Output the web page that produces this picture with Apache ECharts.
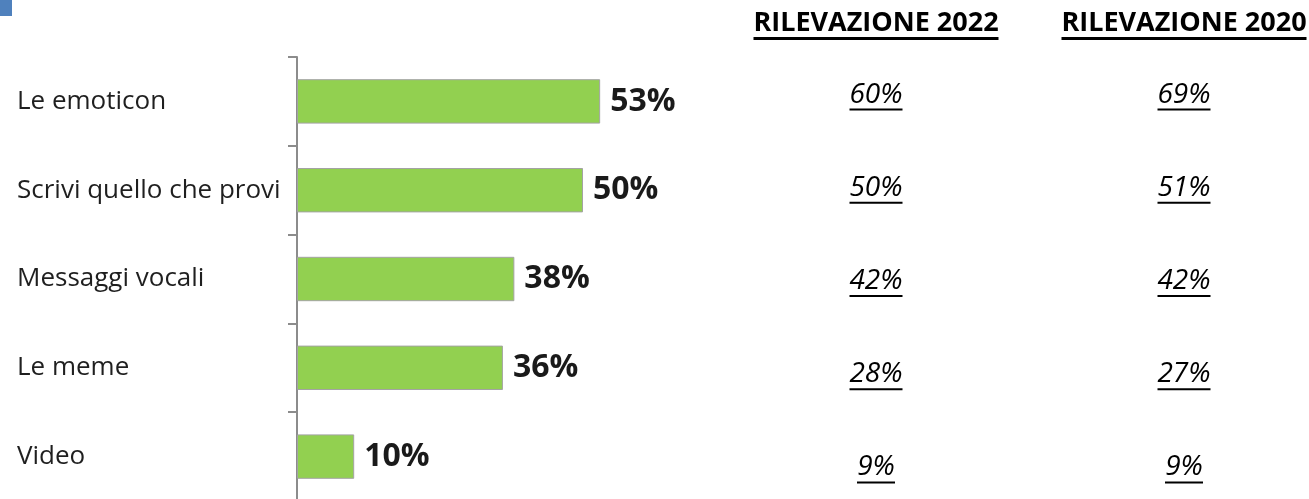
<!DOCTYPE html>
<html>
<head>
<meta charset="UTF-8">
<title>Rilevazione</title>
<style>
    html, body { margin: 0; padding: 0; background: #fff; }
    #chart { width: 1309px; height: 499px; }
</style>
</head>
<body>
<div id="chart"></div>
<script src="https://cdn.jsdelivr.net/npm/echarts@6/dist/echarts.min.js"></script>
<script>
    // dati
    var categories = ['Le emoticon', 'Scrivi quello che provi', 'Messaggi vocali', 'Le meme', 'Video'];
    var values = [53, 50, 38, 36, 10];
    var headers = ['RILEVAZIONE 2022', 'RILEVAZIONE 2020'];
    var rilevazione2022 = [60, 50, 42, 28, 9];
    var rilevazione2020 = [69, 51, 42, 27, 9];

    var FONT = '"Open Sans", sans-serif';
    var ctx = document.createElement('canvas').getContext('2d');
    function textWidth(txt, font) {
        ctx.font = font;
        return Math.round(ctx.measureText(txt).width);
    }

    // header sottolineati (rich text + barretta sotto)
    var headRich = {
        t: { fontFamily: FONT, fontWeight: 'bold', fontSize: 27, color: '#000', lineHeight: 27 }
    };
    headers.forEach(function (h, i) {
        headRich['u' + i] = { width: textWidth(h, 'bold 27px ' + FONT), height: 3, lineHeight: 3, backgroundColor: '#000' };
    });

    function tableSeries(col, vals) {
        return {
            type: 'scatter',
            xAxisIndex: 1,
            yAxisIndex: 1,
            symbolSize: 0,
            silent: true,
            itemStyle: { opacity: 1 },
            data: vals.map(function (v, i) {
                var txt = v + '%';
                return {
                    value: [headers[col], categories[i]],
                    label: {
                        show: true,
                        position: 'inside',
                        opacity: 1,
                        formatter: '{v|' + txt + '}\n{u|}',
                        rich: {
                            v: { fontFamily: FONT, fontStyle: 'italic', fontSize: 28, color: '#000', lineHeight: 28 },
                            u: { width: textWidth(txt, 'italic 28px ' + FONT), height: 2, lineHeight: 2, backgroundColor: '#000' }
                        }
                    }
                };
            })
        };
    }

    var myChart = echarts.init(document.getElementById('chart'));
    var option = {
        animation: false,
        backgroundColor: '#fff',
        graphic: [
            { type: 'rect', left: 0, top: 0, z: 10, shape: { x: 0, y: 0, width: 12, height: 16 }, style: { fill: '#4f81bd' } }
        ],
        grid: [
            { left: 297, top: 57, width: 572, height: 444, outerBoundsMode: 'none' },
            { left: 722, top: 49, width: 616, height: 466, outerBoundsMode: 'none' }
        ],
        xAxis: [
            { type: 'value', gridIndex: 0, min: 0, max: 100, show: false },
            {
                type: 'category', gridIndex: 1, position: 'top', data: headers,
                axisLine: { show: false },
                axisTick: { show: false },
                axisLabel: {
                    margin: 9,
                    formatter: function (value, index) { return '{t|' + value + '}\n{u' + index + '|}'; },
                    rich: headRich
                }
            }
        ],
        yAxis: [
            {
                type: 'category', gridIndex: 0, data: categories, inverse: true,
                axisLine: { show: true, lineStyle: { color: '#8c8c8c', width: 2 } },
                axisTick: { show: true, interval: 0, length: 9, lineStyle: { color: '#8c8c8c', width: 2 } },
                axisLabel: {
                    margin: 280,
                    align: 'left',
                    fontFamily: FONT,
                    fontSize: 26,
                    color: '#1f1f1f'
                }
            },
            { type: 'category', gridIndex: 1, data: categories, inverse: true, show: false }
        ],
        series: [
            {
                type: 'bar',
                data: values,
                barWidth: '50%',
                itemStyle: { color: '#92d050', borderColor: '#a3a3a3', borderWidth: 1 },
                label: {
                    show: true,
                    position: 'right',
                    distance: 10,
                    formatter: '{c}%',
                    fontFamily: FONT,
                    fontWeight: 'bold',
                    fontSize: 32,
                    color: '#1a1a1a'
                }
            },
            tableSeries(0, rilevazione2022),
            tableSeries(1, rilevazione2020)
        ]
    };
    myChart.setOption(option);
</script>
</body>
</html>
